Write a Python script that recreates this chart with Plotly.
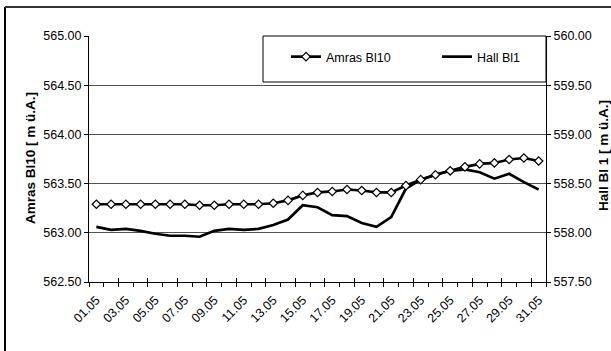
import plotly.graph_objects as go

dates = [f"{d:02d}.05" for d in range(1, 32)]
amras = [563.29, 563.29, 563.29, 563.29, 563.29, 563.29, 563.29, 563.28, 563.28, 563.29,
         563.29, 563.29, 563.30, 563.33, 563.38, 563.41, 563.42, 563.44, 563.43, 563.41,
         563.41, 563.48, 563.54, 563.59, 563.63, 563.67, 563.70, 563.71, 563.745, 563.76, 563.73]
hall = [558.06, 558.03, 558.04, 558.02, 557.99, 557.97, 557.97, 557.96, 558.02, 558.04,
        558.03, 558.04, 558.08, 558.135, 558.28, 558.26, 558.18, 558.17, 558.10, 558.06,
        558.16, 558.45, 558.54, 558.59, 558.63, 558.645, 558.615, 558.55, 558.60, 558.515, 558.44]
tick_labels = [d if i % 2 == 0 else "" for i, d in enumerate(dates)]
left_range = [562.5, 565.0]
right_range = [557.5, 560.0]
left_title = "Amras Bl10 [ m ü.A.]"
right_title = "Hall Bl 1 [ m ü.A.]"

FONT = "Liberation Sans, Arial, sans-serif"
fig = go.Figure()

fig.add_trace(go.Scatter(
    x=dates, y=hall, name="Hall Bl1", mode="lines",
    line=dict(color="black", width=2.7),
    xaxis="x", yaxis="y"))
fig.add_trace(go.Scatter(
    x=dates, y=amras, name="Amras Bl10", mode="lines+markers",
    line=dict(color="black", width=2.7),
    marker=dict(symbol="diamond", size=6.5, color="white", line=dict(color="black", width=1.2)),
    xaxis="x2", yaxis="y2"))

W, H = 611, 351
L, R, T, B = 89, 546, 36, 282
pw, ph = R - L, B - T

def px(x):
    return (x - L) / pw

def py(y):
    return (B - y) / ph

xr = [-0.5, len(dates) - 0.5]
title_font = dict(family=FONT, size=13.5, weight="bold", color="black")

fig.update_layout(
    width=W, height=H,
    margin=dict(l=L, r=W - R, t=T, b=H - B),
    paper_bgcolor="white", plot_bgcolor="white",
    font=dict(family=FONT, size=12.5, color="black"),
    showlegend=True,
    legend=dict(orientation="h", x=px(286), y=py(42), xanchor="left", yanchor="top",
                bgcolor="rgba(0,0,0,0)", borderwidth=0, traceorder="reversed",
                entrywidth=106, entrywidthmode="pixels",
                font=dict(family=FONT, size=12.5)),
    xaxis=dict(type="category", categoryorder="array", categoryarray=dates, range=xr,
               tickmode="array", tickvals=dates, ticktext=tick_labels,
               tickson="boundaries", ticks="outside", ticklen=4, tickcolor="black",
               tickangle=-45, showgrid=False, showline=True, linecolor="black",
               linewidth=1, zeroline=False, anchor="y", ticklabelstandoff=5),
    xaxis2=dict(type="category", categoryorder="array", categoryarray=dates, range=xr,
                overlaying="x", anchor="y", side="bottom",
                tickson="boundaries", ticks="inside", ticklen=4, tickcolor="black",
                showticklabels=False, showgrid=False, showline=False, zeroline=False),
    yaxis=dict(range=right_range, dtick=0.5, tick0=557.5, tickformat=".2f",
               side="right", anchor="x", showgrid=True, gridcolor="#505050", gridwidth=1,
               showline=True, linecolor="black", linewidth=1,
               ticks="outside", ticklen=4, tickcolor="black", zeroline=False),
    yaxis2=dict(range=left_range, dtick=0.5, tick0=562.5, tickformat=".2f",
                side="left", overlaying="y", anchor="x2", showgrid=False,
                showline=True, linecolor="black", linewidth=1,
                ticks="outside", ticklen=4, tickcolor="black", zeroline=False),
    annotations=[
        dict(text=left_title, xref="paper", yref="paper", x=px(30), y=py(158),
             xanchor="center", yanchor="middle", textangle=-90, showarrow=False,
             font=title_font),
        dict(text=right_title, xref="paper", yref="paper", x=px(603), y=py(156),
             xanchor="center", yanchor="middle", textangle=-90, showarrow=False,
             font=title_font),
    ],
    shapes=[
        dict(type="rect", xref="paper", yref="paper", x0=px(263), x1=px(546),
             y0=py(82), y1=py(36), line=dict(color="black", width=1),
             fillcolor="white", layer="below"),
        dict(type="line", xref="paper", yref="paper", x0=px(5), x1=px(5),
             y0=py(7), y1=py(360), line=dict(color="black", width=2)),
        dict(type="line", xref="paper", yref="paper", x0=px(5), x1=px(620),
             y0=py(7), y1=py(7), line=dict(color="#333333", width=2)),
    ],
)

fig.write_html("out.html", config={"displayModeBar": False},
               post_script="document.body.style.margin='0px';")
